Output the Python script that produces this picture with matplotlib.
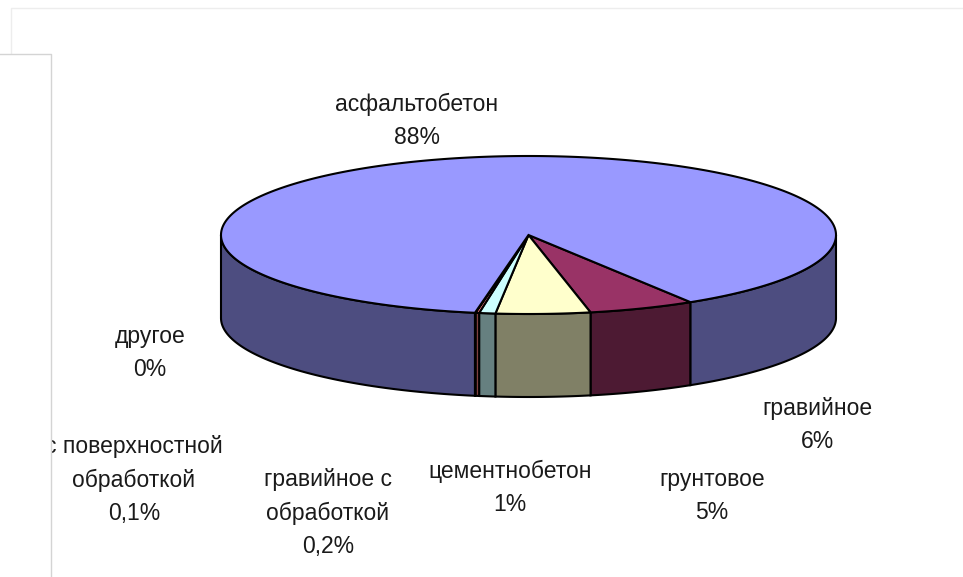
import numpy as np
import matplotlib
matplotlib.use('Agg')
import matplotlib.pyplot as plt
from matplotlib.patches import Polygon, Rectangle

# road surface types, clockwise from the right edge of the gravel slice
names = ['гравийное', 'грунтовое', 'цементнобетон', 'гравийное с\nобработкой',
         'с поверхностной\nобработкой', 'другое', 'асфальтобетон']
shares = [5.6, 4.95, 0.85, 0.19, 0.03, 0.0, 88.38]
share_labels = ['6%', '5%', '1%', '0,2%', '0,1%', '0%', '88%']

top_colors = ['#993366', '#FFFFCC', '#CCFFFF', '#FF8080', '#660066', '#0066CC', '#9999FF']
side_colors = ['#4D1A33', '#808066', '#668080', '#804040', '#330033', '#003366', '#4D4D80']

# pixel positions of the label centres
label_pos = [(817, 425), (712, 496), (510, 488), (328, 513), (134, 480), (150, 353), (417, 121)]

CX, CY = 528.5, 235
RX, RY = 307.5, 79
DEPTH = 83
START = 58.2
EDGE = 'black'
LW = 1.5


def rim(a, b):
    t = np.radians(np.linspace(a, b, max(int(abs(b - a) * 2), 2)))
    return CX + RX * np.cos(t), CY + RY * np.sin(t)


def draw_side(ax, a, b, color):
    # only the front half of the wall can be seen
    for lo, hi in [(a, b), (a - 360, b - 360)]:
        lo, hi = max(lo, 0), min(hi, 180)
        if hi <= lo:
            continue
        x, y = rim(lo, hi)
        pts = np.r_[np.c_[x, y], np.c_[x, y + DEPTH][::-1]]
        ax.add_patch(Polygon(pts, closed=True, fc=color, ec=EDGE, lw=LW, zorder=2))


fig = plt.figure(figsize=(9.63, 5.77), dpi=100)
ax = fig.add_axes([0, 0, 1, 1])
ax.set_xlim(0, 963)
ax.set_ylim(577, 0)
ax.axis('off')

sweeps = np.array(shares) / sum(shares) * 360
ends = START + np.cumsum(sweeps)
starts = ends - sweeps

for a, b, top, side in zip(starts, ends, top_colors, side_colors):
    if b - a <= 0:
        continue
    draw_side(ax, a, b, side)
    x, y = rim(a, b)
    pts = np.r_[[[CX, CY]], np.c_[x, y]]
    ax.add_patch(Polygon(pts, closed=True, fc=top, ec=EDGE, lw=LW, zorder=3))

for name, pct, (x, y) in zip(names, share_labels, label_pos):
    ax.text(x, y, name + '\n' + pct, ha='center', va='center', fontsize=16.5,
            family='Liberation Sans', linespacing=1.56, color='#1A1A1A', zorder=4)

# page frame behind the chart, the box on the left hides the start of one label
ax.plot([11, 11, 963], [54, 8, 8], color='#EDEDED', lw=1, zorder=1)
ax.add_patch(Rectangle((0, 54), 51, 523, fc='white', ec='none', zorder=5))
ax.plot([0, 51, 51], [54, 54, 577], color='#D4D4D4', lw=1, zorder=6)

fig.savefig('out.png', dpi=100)
